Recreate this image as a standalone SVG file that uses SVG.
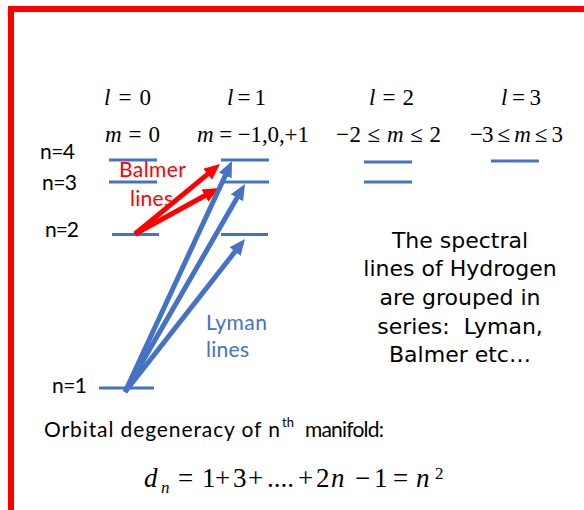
<svg xmlns="http://www.w3.org/2000/svg" width="584" height="510" viewBox="0 0 584 510">
<style>
.lvl{stroke:#4472C4;stroke-width:3;fill:none}
.math{font-family:"Liberation Serif","Times New Roman",serif;font-size:23px;fill:#000}
.big{font-size:27px}
.sub{font-size:17px}
.sup{font-size:17px}
.it{font-style:italic}
.lab{font-family:Lato,"Liberation Sans",sans-serif;font-size:21px;fill:#000}
.th{font-size:13px}
.red{fill:#FF0000}
.blue{fill:#4472C4}
.note{font-family:"DejaVu Sans",sans-serif;font-size:22px;fill:#000;text-anchor:middle;white-space:pre}
.ra{stroke:#FF0000;stroke-width:5;fill:none;marker-end:url(#hr)}
.ba{stroke:#4472C4;stroke-width:5;fill:none;marker-end:url(#hb)}
</style>
<defs>
<marker id="hr" markerUnits="userSpaceOnUse" markerWidth="16" markerHeight="14" refX="6" refY="7" orient="auto" viewBox="0 0 16 14"><path d="M0,0 L16,7 L0,14 z" fill="#FF0000"/></marker>
<marker id="hb" markerUnits="userSpaceOnUse" markerWidth="16" markerHeight="14" refX="6" refY="7" orient="auto" viewBox="0 0 16 14"><path d="M0,0 L16,7 L0,14 z" fill="#4472C4"/></marker>
</defs>
<rect width="584" height="510" fill="#fff"/>
<path d="M11,510 V9 H584" stroke="#FF0000" stroke-width="6" fill="none"/>

<g id="headers">
<text class="math" x="104" y="105" textLength="47"><tspan class="it">l</tspan> = 0</text>
<text class="math" x="227" y="105" textLength="39"><tspan class="it">l</tspan> = 1</text>
<text class="math" x="369" y="105" textLength="45"><tspan class="it">l</tspan> = 2</text>
<text class="math" x="501" y="105" textLength="40"><tspan class="it">l</tspan> = 3</text>
<text class="math" x="105" y="142" textLength="55"><tspan class="it">m</tspan> = 0</text>
<text class="math" x="197" y="142" textLength="112"><tspan class="it">m</tspan> = −1,0,+1</text>
<text class="math" x="336" y="142" textLength="105">−2 ≤ <tspan class="it">m</tspan> ≤ 2</text>
<text class="math" x="470" y="142" textLength="93">−3 ≤ <tspan class="it">m</tspan> ≤ 3</text>
</g>

<g id="n-labels">
<text class="lab" x="40" y="159" textLength="35">n=4</text>
<text class="lab" x="42" y="190" textLength="35">n=3</text>
<text class="lab" x="45" y="237" textLength="34">n=2</text>
<text class="lab" x="52" y="393" textLength="35">n=1</text>
</g>

<g id="levels">
<line class="lvl" x1="109" y1="160" x2="157" y2="160"/>
<line class="lvl" x1="109" y1="182" x2="157" y2="182"/>
<line class="lvl" x1="112" y1="234.5" x2="159" y2="234.5"/>
<line class="lvl" x1="99" y1="388" x2="154" y2="388"/>
<line class="lvl" x1="221" y1="160" x2="269" y2="160"/>
<line class="lvl" x1="222" y1="182" x2="269" y2="182"/>
<line class="lvl" x1="221" y1="234.5" x2="268" y2="234.5"/>
<line class="lvl" x1="364" y1="162" x2="412" y2="162"/>
<line class="lvl" x1="364" y1="182" x2="412" y2="182"/>
<line class="lvl" x1="491" y1="161" x2="539" y2="161"/>
</g>

<g id="series-labels">
<text class="lab red" x="119" y="177" textLength="67">Balmer</text>
<text class="lab red" x="130" y="206" textLength="43">lines</text>
<text class="lab blue" x="206" y="330" textLength="61">Lyman</text>
<text class="lab blue" x="206" y="357" textLength="43">lines</text>
</g>

<g id="connectors">
<line class="ra" x1="135" y1="234" x2="212.3" y2="170.4"/>
<line class="ra" x1="135" y1="234" x2="210.2" y2="192.8"/>
<line class="ba" x1="125" y1="392" x2="227.8" y2="170.1"/>
<line class="ba" x1="125" y1="392" x2="240" y2="192.7"/>
<line class="ba" x1="125" y1="392" x2="238.8" y2="246.9"/>
</g>

<g id="note">
<text class="note" x="460" y="248">The spectral</text>
<text class="note" x="460" y="276">lines of Hydrogen</text>
<text class="note" x="460" y="305">are grouped in</text>
<text class="note" x="460" y="334" xml:space="preserve">series:  Lyman,</text>
<text class="note" x="460" y="362">Balmer etc…</text>
</g>

<g id="degeneracy">
<text class="lab" x="44" y="437" textLength="236">Orbital degeneracy of n</text>
<text class="lab th" x="282" y="427">th</text>
<text class="lab" x="305" y="437" textLength="79">manifold:</text>
<text class="math big it" x="144" y="487">d</text>
<text class="math sub it" x="161" y="493">n</text>
<text class="math big" x="178" y="487">=</text>
<text class="math big" x="202" y="487">1</text>
<text class="math big" x="215" y="487">+</text>
<text class="math big" x="233" y="487">3</text>
<text class="math big" x="248" y="487">+</text>
<text class="math big" x="267" y="487">....</text>
<text class="math big" x="298" y="487">+</text>
<text class="math big" x="316" y="487">2</text>
<text class="math big it" x="331" y="487">n</text>
<text class="math big" x="355" y="487">−</text>
<text class="math big" x="374" y="487">1</text>
<text class="math big" x="393" y="487">=</text>
<text class="math big it" x="416" y="487">n</text>
<text class="math sup" x="435" y="479">2</text>
</g>
</svg>
